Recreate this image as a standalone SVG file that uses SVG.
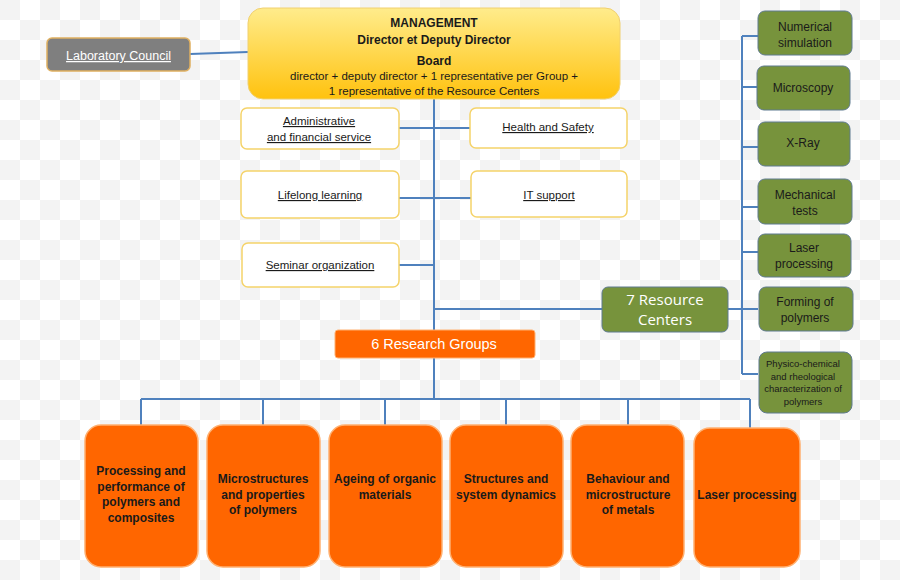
<svg xmlns="http://www.w3.org/2000/svg" width="900" height="580" viewBox="0 0 900 580">
<defs>
<linearGradient id="yel" x1="0" y1="0" x2="0" y2="1">
<stop offset="0" stop-color="#ffec8c"/>
<stop offset="1" stop-color="#ffc20e"/>
</linearGradient>
<pattern id="chk" width="40" height="40" patternUnits="userSpaceOnUse">
<rect width="40" height="40" fill="#ffffff"/>
<rect width="20" height="20" fill="#f3f3f3"/>
<rect x="20" y="20" width="20" height="20" fill="#f3f3f3"/>
</pattern>
</defs>
<style>
text{font-family:"Liberation Sans Narrow","Liberation Sans",Arial,sans-serif;text-anchor:middle;fill:#1a1a1a}
.w{fill:#ffffff}
.u{text-decoration:underline}
.b{font-weight:bold}
.svc{fill:#ffffff;stroke:#f5d36a;stroke-width:1.5}
.grn{fill:#77933c;stroke:#5f7a8f;stroke-width:1}
.org{fill:#ff6600;stroke:#ffb070;stroke-width:1.5}
.ln{stroke:#4f81bd;stroke-width:2;fill:none}
</style>
<rect width="900" height="580" fill="url(#chk)"/>
<g id="connectors">
<path class="ln" d="M190 54 L248 52"/>
<path class="ln" d="M434 99 V330"/>
<path class="ln" d="M399 128 H470 M399 198 H471 M399 265 H434 M434 309 H602"/>
<path class="ln" d="M728 309 H742 M742 36 V374 M742 36 H758 M742 87 H758 M742 147 H758 M742 207 H758 M742 252 H758 M742 309 H758 M742 374 H758"/>
<path class="ln" d="M434 358 V399 M141 399 H750 M141 399 V425 M263 399 V425 M385 399 V425 M506 399 V425 M628 399 V425 M750 399 V428"/>
</g>
<g id="lab-council">
<rect x="47" y="38" width="143" height="33" rx="5" fill="#7f7f7f" stroke="#e0b060" stroke-width="1.5"/>
<text x="118.5" y="60" class="w u" font-size="12.5">Laboratory Council</text>
</g>
<g id="management">
<rect x="248" y="8" width="372" height="91" rx="15" fill="url(#yel)" stroke="#f0d070" stroke-width="1"/>
<text x="434" y="27" class="b" font-size="12">MANAGEMENT</text>
<text x="434" y="44" class="b" font-size="12">Director et Deputy Director</text>
<text x="434" y="65" class="b" font-size="12">Board</text>
<text x="434" y="80" font-size="11.5">director + deputy director + 1 representative per Group +</text>
<text x="434" y="95" font-size="11.5">1 representative of the Resource Centers</text>
</g>
<g id="administrative">
<rect class="svc" x="241" y="108" width="158" height="41" rx="6"/>
<text x="319" y="125" class="u" font-size="11.5">Administrative</text>
<text x="319" y="141" class="u" font-size="11.5">and financial service</text>
</g>
<g id="health-safety">
<rect class="svc" x="470" y="108" width="157" height="40" rx="6"/>
<text x="548" y="131" class="u" font-size="11.5">Health and Safety</text>
</g>
<g id="lifelong">
<rect class="svc" x="241" y="171" width="158" height="47" rx="6"/>
<text x="320" y="199" class="u" font-size="11.5">Lifelong learning</text>
</g>
<g id="it-support">
<rect class="svc" x="471" y="171" width="156" height="46" rx="6"/>
<text x="549" y="199" class="u" font-size="11.5">IT support</text>
</g>
<g id="seminar">
<rect class="svc" x="242" y="243" width="157" height="44" rx="6"/>
<text x="320" y="269" class="u" font-size="11.5">Seminar organization</text>
</g>
<g id="resource-centers">
<rect class="grn" x="602" y="287" width="126" height="45" rx="6"/>
<text x="665" y="305" class="w" font-size="15" style="font-family:'Open Sans','Liberation Sans',sans-serif">7 Resource</text>
<text x="665" y="325" class="w" font-size="15" style="font-family:'Open Sans','Liberation Sans',sans-serif">Centers</text>
</g>
<g id="rc-numerical">
<rect class="grn" x="758" y="11" width="94" height="44" rx="7"/>
<text x="805" y="31" font-size="12">Numerical</text>
<text x="805" y="47" font-size="12">simulation</text>
</g>
<g id="rc-microscopy">
<rect class="grn" x="757" y="66" width="93" height="44" rx="7"/>
<text x="803" y="92" font-size="12">Microscopy</text>
</g>
<g id="rc-xray">
<rect class="grn" x="758" y="122" width="92" height="44" rx="7"/>
<text x="803" y="147" font-size="12">X-Ray</text>
</g>
<g id="rc-mechanical">
<rect class="grn" x="758" y="179" width="94" height="45" rx="7"/>
<text x="805" y="199" font-size="12">Mechanical</text>
<text x="805" y="215" font-size="12">tests</text>
</g>
<g id="rc-laser">
<rect class="grn" x="758" y="234" width="93" height="43" rx="7"/>
<text x="804" y="252" font-size="12">Laser</text>
<text x="804" y="268" font-size="12">processing</text>
</g>
<g id="rc-forming">
<rect class="grn" x="759" y="287" width="94" height="44" rx="7"/>
<text x="805" y="306" font-size="12">Forming of</text>
<text x="805" y="322" font-size="12">polymers</text>
</g>
<g id="rc-physico">
<rect class="grn" x="759" y="352" width="93" height="61" rx="8"/>
<text x="803" y="367" font-size="9.5">Physico-chemical</text>
<text x="803" y="380" font-size="9.5">and rheological</text>
<text x="803" y="392" font-size="9.5">characterization of</text>
<text x="803" y="405" font-size="9.5">polymers</text>
</g>
<g id="research-groups">
<rect x="335" y="330" width="200" height="28" rx="3" fill="#ff6600" stroke="#ffb070" stroke-width="1"/>
<text x="434" y="349" class="w" font-size="14.5" style="font-family:'Liberation Sans',Arial,sans-serif">6 Research Groups</text>
</g>
<g id="rg-processing">
<rect class="org" x="85" y="425" width="113" height="142" rx="16"/>
<text x="141" y="475" class="b" font-size="12">Processing and</text>
<text x="141" y="491" class="b" font-size="12">performance of</text>
<text x="141" y="506" class="b" font-size="12">polymers and</text>
<text x="141" y="522" class="b" font-size="12">composites</text>
</g>
<g id="rg-microstructures">
<rect class="org" x="207" y="425" width="113" height="142" rx="16"/>
<text x="263" y="483" class="b" font-size="12">Microstructures</text>
<text x="263" y="499" class="b" font-size="12">and properties</text>
<text x="263" y="514" class="b" font-size="12">of polymers</text>
</g>
<g id="rg-ageing">
<rect class="org" x="329" y="425" width="113" height="142" rx="16"/>
<text x="385" y="483" class="b" font-size="12">Ageing of organic</text>
<text x="385" y="499" class="b" font-size="12">materials</text>
</g>
<g id="rg-structures">
<rect class="org" x="450" y="425" width="113" height="142" rx="16"/>
<text x="506" y="483" class="b" font-size="12">Structures and</text>
<text x="506" y="499" class="b" font-size="12">system dynamics</text>
</g>
<g id="rg-behaviour">
<rect class="org" x="571" y="425" width="113" height="142" rx="16"/>
<text x="628" y="483" class="b" font-size="12">Behaviour and</text>
<text x="628" y="499" class="b" font-size="12">microstructure</text>
<text x="628" y="514" class="b" font-size="12">of metals</text>
</g>
<g id="rg-laser">
<rect class="org" x="694" y="428" width="106" height="139" rx="16"/>
<text x="747" y="499" class="b" font-size="12">Laser processing</text>
</g>
</svg>
